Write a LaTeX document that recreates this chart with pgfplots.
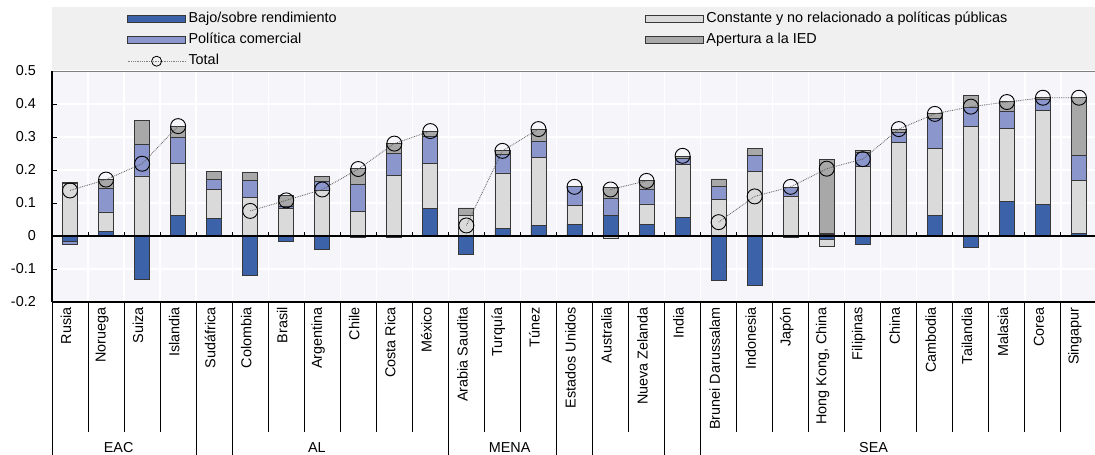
\documentclass[border=0pt]{standalone}
\usepackage{fontspec}
\setmainfont{Liberation Sans}
\usepackage{pgfplots}
\usepackage{pgfplotstable}
\pgfplotsset{compat=1.18}
\definecolor{cBlue}{RGB}{60,98,170}
\definecolor{cPol}{RGB}{138,150,204}
\definecolor{cConst}{RGB}{218,218,218}
\definecolor{cIED}{RGB}{168,168,168}
\definecolor{plotbg}{RGB}{245,245,250}
\definecolor{legbg}{RGB}{239,240,239}
\definecolor{edge}{RGB}{55,55,55}
\newcommand\myfont{\fontsize{14.4}{17}\selectfont}

\pgfplotsset{
  base/.style={scale only axis, width=1045pt, height=231pt,
    xmin=-0.5, xmax=28.5, ymin=-0.2, ymax=0.5,
    at={(0pt,0pt)}, anchor=south west},
  legbar/.style={legend image code/.code={\draw[##1] (0pt,-3.2pt) rectangle (58pt,3.8pt);}},
  legtot/.style={legend image code/.code={%
      \draw[densely dotted, gray, line width=0.8pt] (0pt,0.3pt) -- (58pt,0.3pt);
      \draw[black, line width=0.8pt] (29pt,0.3pt) circle (5pt);}},
  barsty/.style={draw=edge, line width=0.8pt, forget plot},
}

\pgfplotstableread{
x bp cp pp fp bn pn cn
0 0 0.158 0 0.005 -0.017 -0.007 0
1 0.013 0.060 0.071 0.027 0 0 0
2 0 0.182 0.095 0.072 -0.133 0 0
3 0.063 0.156 0.080 0.034 0 0 0
4 0.053 0.089 0.029 0.024 0 0 0
5 0 0.117 0.051 0.025 -0.118 0 0
6 0 0.084 0.007 0.032 -0.015 0 0
7 0 0.138 0.028 0.015 -0.041 0 0
8 0 0.075 0.081 0.049 0 0 -0.004
9 0 0.183 0.067 0.031 0 0 -0.004
10 0.083 0.137 0.081 0.017 0 0 0
11 0 0.063 0 0.022 -0.056 0 0
12 0.022 0.169 0.057 0.010 0 0 0
13 0.032 0.207 0.049 0.036 0 0 0
14 0.036 0.056 0.057 0 0 0 0
15 0.063 0 0.050 0.033 0 0 -0.006
16 0.036 0.061 0.044 0.026 0 0 0
17 0.057 0.161 0.017 0.005 0 0 0
18 0 0.111 0.040 0.022 -0.134 0 0
19 0 0.195 0.049 0.021 -0.149 0 0
20 0 0.121 0.026 0 0 0 -0.003
21 0.004 0 0.005 0.222 -0.010 0 -0.020
22 0 0.210 0.042 0.008 -0.025 0 0
23 0 0.284 0.030 0.009 0 0 0
24 0.063 0.202 0.090 0.016 0 0 0
25 0 0.333 0.056 0.037 -0.035 0 0
26 0.104 0.222 0.053 0.030 0 0 0
27 0.096 0.284 0.035 0.004 0 0 0
28 0.008 0.161 0.074 0.176 0 0 0
}\bars

\pgfplotstableread{
x t
0 0.138
1 0.171
2 0.219
3 0.333
4 nan
5 0.076
6 0.108
7 0.141
8 0.203
9 0.280
10 0.318
10.5 nan
11 0.032
12 0.258
13 0.324
13.5 nan
14 0.149
14.5 nan
15 0.141
16 0.167
16.5 nan
17 0.243
17.5 nan
18 0.042
19 0.120
20 0.149
21 0.204
22 0.233
23 0.324
24 0.370
25 0.392
26 0.406
27 0.419
28 0.419
}\totals

\begin{document}
\begin{tikzpicture}[font=\myfont]
\useasboundingbox (-52pt,-153pt) rectangle (1043pt,302pt);
\fill[legbg] (0pt,231pt) rectangle (1043pt,295pt);
% main axis: background, grid, labels, positive stacks, legend
\begin{axis}[base,
  axis background/.style={fill=plotbg},
  axis line style={draw=none},
  ybar stacked, bar width=15pt,
  xtick={0,...,28},
  xticklabels={Rusia,Noruega,Suiza,Islandia,Sudáfrica,Colombia,Brasil,Argentina,Chile,Costa Rica,México,Arabia Saudita,Turquía,Túnez,Estados Unidos,Australia,Nueva Zelanda,India,Brunei Darussalam,Indonesia,Japón,{Hong Kong, China},Filipinas,China,Cambodia,Tailandia,Malasia,Corea,Singapur},
  xtick style={draw=none}, minor x tick style={draw=none},
  minor xtick={0.5,1.5,...,27.5},
  xminorgrids, minor x grid style={white, line width=1.3pt},
  ytick={-0.2,-0.1,0,0.1,0.2,0.3,0.4,0.5},
  yticklabels={-0.2,-0.1,0,0.1,0.2,0.3,0.4,0.5},
  ymajorgrids, major y grid style={white, line width=1.3pt},
  ytick style={black, line width=1pt}, tick align=inside, major tick length=5pt,
  ytick pos=left, xtick pos=bottom,
  tick label style={font=\myfont},
  xticklabel style={xshift=-4pt, yshift=-5pt, rotate=90, anchor=east, inner sep=0pt},
  yticklabel style={anchor=east, inner sep=0pt, xshift=-16pt},
  legend columns=2, legend cell align=left,
  legend style={at={(axis description cs:0.0718,1.252)}, anchor=north west,
    draw=none, fill=none, inner sep=0pt, font=\myfont, row sep=8pt,
    nodes={inner xsep=2.5pt, inner ysep=0pt, text height=10pt, text depth=3pt},
    /tikz/every even column/.append style={column sep=306pt}},
]
\addplot[barsty, fill=cBlue] table[x=x, y=bp]{\bars};
\addplot[barsty, fill=cConst] table[x=x, y=cp]{\bars};
\addplot[barsty, fill=cPol] table[x=x, y=pp]{\bars};
\addplot[barsty, fill=cIED] table[x=x, y=fp]{\bars};
\addlegendimage{legbar, fill=cBlue, draw=edge, line width=0.8pt}
\addlegendentry{Bajo/sobre rendimiento}
\addlegendimage{legbar, fill=cConst, draw=edge, line width=0.8pt}
\addlegendentry{Constante y no relacionado a políticas públicas}
\addlegendimage{legbar, fill=cPol, draw=edge, line width=0.8pt}
\addlegendentry{Política comercial}
\addlegendimage{legbar, fill=cIED, draw=edge, line width=0.8pt}
\addlegendentry{Apertura a la IED}
\addlegendimage{legtot}
\addlegendentry{Total}
\end{axis}
% negative stacks
\begin{axis}[base, hide axis, ybar stacked, bar width=15pt]
\addplot[barsty, fill=cBlue] table[x=x, y=bn]{\bars};
\addplot[barsty, fill=cPol] table[x=x, y=pn]{\bars};
\addplot[barsty, fill=cConst] table[x=x, y=cn]{\bars};
\end{axis}
% totals and frame decorations
\begin{axis}[base, hide axis, clip=false, unbounded coords=jump]
\addplot[densely dotted, gray!70!black, line width=0.8pt, mark=o, mark size=7.5pt,
  mark options={solid, draw=black, line width=0.9pt}] table[x=x, y=t]{\totals};
\draw[black, line width=1.6pt] (axis cs:-0.5,0) -- (axis cs:28.5,0);
\pgfplotsinvokeforeach{0.5,1.5,2.5,3.5,4.5,5.5,6.5,7.5,8.5,9.5,10.5,11.5,12.5,13.5,14.5,15.5,16.5,17.5,18.5,19.5,20.5,21.5,22.5,23.5,24.5,25.5,26.5,27.5}{
  \draw[black, line width=1pt] (axis cs:#1,0) -- ++(0pt,4.5pt);}
\draw[gray, line width=0.8pt] (rel axis cs:0,1) -- (rel axis cs:1,1);
\draw[black, line width=1.3pt] (rel axis cs:0,0) -- (rel axis cs:1,0);
\draw[black, line width=1.6pt] (rel axis cs:0,0) -- (rel axis cs:0,1);
\pgfplotsinvokeforeach{0.5,1.5,2.5,5.5,6.5,7.5,8.5,9.5,11.5,12.5,15.5,18.5,19.5,20.5,21.5,22.5,23.5,24.5,25.5,26.5,27.5}{
  \draw[black, line width=1pt] (axis cs:#1,-0.2) -- ++(0pt,-130pt);}
\pgfplotsinvokeforeach{-0.5,3.5,4.5,10.5,13.5,14.5,16.5,17.5,28.5}{
  \draw[black, line width=1pt] (axis cs:#1,-0.2) -- ++(0pt,-153pt);}
\node[font=\myfont] at ([yshift=-146pt]axis cs:1.35,-0.2) {EAC};
\node[font=\myfont] at ([yshift=-146pt]axis cs:6.85,-0.2) {AL};
\node[font=\myfont] at ([yshift=-146pt]axis cs:12.2,-0.2) {MENA};
\node[font=\myfont] at ([yshift=-146pt]axis cs:22.3,-0.2) {SEA};
\end{axis}
\end{tikzpicture}
\end{document}
